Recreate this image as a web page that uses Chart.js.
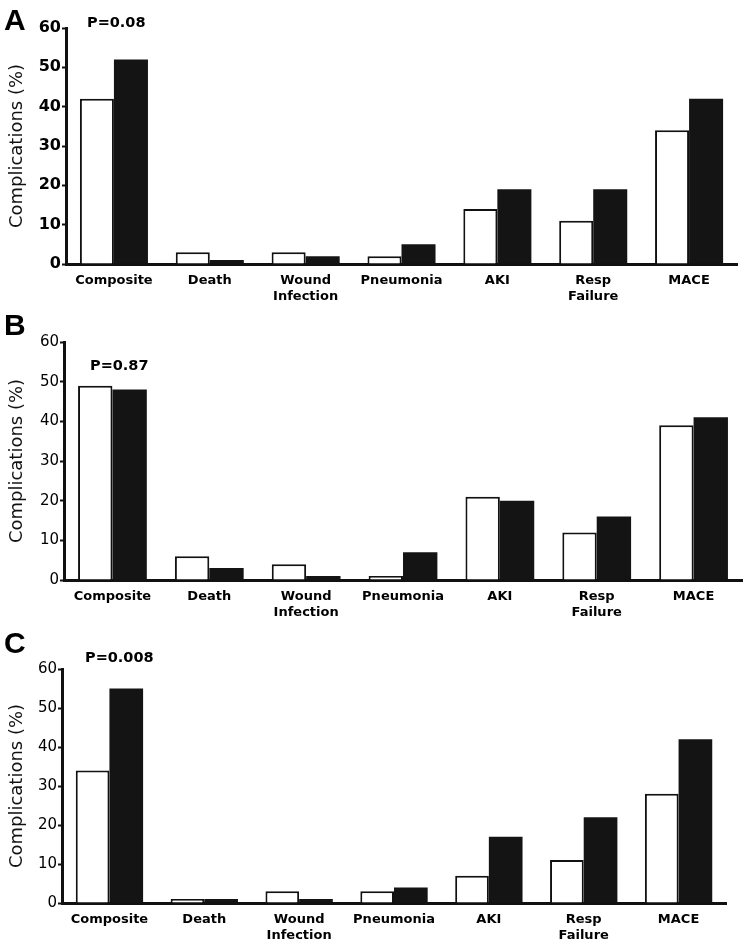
<!DOCTYPE html>
<html>
<head>
<meta charset="utf-8">
<script src="https://cdn.jsdelivr.net/npm/chart.js@4"></script>
<style>
  body { margin: 0; background: #fff; }
  #page { position: relative; width: 745px; height: 943px; overflow: hidden; }
  .panel { position: absolute; left: 0; width: 745px; }
  .letter { position: absolute; font: bold 30px "Liberation Sans", Arial, sans-serif; line-height: 1; color: #000; }
  .pval { position: absolute; font: bold 14.5px "DejaVu Sans", Verdana, sans-serif; line-height: 1; color: #000; }
</style>
</head>
<body>
<div id="page">
  <div class="panel" style="top:0;height:310px"><canvas id="chartA"></canvas></div>
  <div class="panel" style="top:310px;height:315px"><canvas id="chartB"></canvas></div>
  <div class="panel" style="top:625px;height:318px"><canvas id="chartC"></canvas></div>
  <div class="letter" style="left:4px;top:5px">A</div>
  <div class="letter" style="left:4px;top:310px">B</div>
  <div class="letter" style="left:4px;top:628px">C</div>
  <div class="pval" style="left:87px;top:15px">P=0.08</div>
  <div class="pval" style="left:90px;top:358px">P=0.87</div>
  <div class="pval" style="left:85px;top:650px">P=0.008</div>
</div>
<script>
const categories = ['Composite', 'Death', ['Wound', 'Infection'], 'Pneumonia', 'AKI', ['Resp', 'Failure'], 'MACE'];
const yTicks = [0, 10, 20, 30, 40, 50, 60];

// panel A
const openA = [42, 3, 3, 2, 14, 11, 34];
const filledA = [52, 1, 2, 5, 19, 19, 42];
// panel B
const openB = [49, 6, 4, 1, 21, 12, 39];
const filledB = [48, 3, 1, 7, 20, 16, 41];
// panel C
const openC = [34, 1, 3, 3, 7, 11, 28];
const filledC = [55, 1, 1, 4, 17, 22, 42];

const makePanel = (id, open, filled, box) => {
    const ctx = document.getElementById(id).getContext('2d');
    return new Chart(ctx, {
        type: 'bar',
        data: {
            labels: categories,
            datasets: [{
                label: 'Open',
                data: open,
                backgroundColor: '#ffffff',
                borderColor: '#111111',
                borderWidth: 2,
                borderSkipped: 'bottom'
            }, {
                label: 'Filled',
                data: filled,
                backgroundColor: '#141414',
                borderColor: '#141414',
                borderWidth: 0
            }]
        },
        options: {
            responsive: true,
            maintainAspectRatio: false,
            animation: false,
            categoryPercentage: 0.71,
            barPercentage: 1.0,
            layout: {
                padding: { top: box.top, right: box.right, left: 0, bottom: 0 }
            },
            scales: {
                x: {
                    grid: { display: false, drawTicks: false },
                    border: { display: true, color: '#111', width: 3 },
                    ticks: {
                        color: '#000',
                        padding: 9,
                        maxRotation: 0,
                        autoSkip: false,
                        font: { family: 'DejaVu Sans', size: 13, weight: 'bold', lineHeight: 1.23 }
                    },
                    afterFit: (scale) => { scale.height = box.xh; }
                },
                y: {
                    min: 0,
                    max: 60,
                    afterBuildTicks: (scale) => { scale.ticks = yTicks.map(v => ({ value: v })); },
                    grid: {
                        drawOnChartArea: false,
                        drawTicks: true,
                        tickLength: 4,
                        tickWidth: 2,
                        tickColor: '#111'
                    },
                    border: { display: true, color: '#111', width: 3 },
                    ticks: {
                        color: '#000',
                        padding: 1,
                        font: { family: 'DejaVu Sans', size: box.tickSize, weight: box.tickWeight }
                    },
                    title: {
                        display: true,
                        text: 'Complications (%)',
                        color: '#111',
                        padding: { top: 7, bottom: 0 },
                        font: { family: 'DejaVu Sans', size: 18, weight: 'normal' }
                    },
                    afterFit: (scale) => { scale.width = box.left; }
                }
            },
            plugins: {
                legend: { display: false },
                tooltip: { enabled: false }
            }
        }
    });
};

makePanel('chartA', openA, filledA, { top: 28, right: 8, left: 66, xh: 46, tickSize: 16, tickWeight: 'bold' });
makePanel('chartB', openB, filledB, { top: 32, right: 3, left: 64, xh: 45, tickSize: 15, tickWeight: 'normal' });
makePanel('chartC', openC, filledC, { top: 44, right: 19, left: 62, xh: 40, tickSize: 15, tickWeight: 'normal' });
</script>
</body>
</html>
